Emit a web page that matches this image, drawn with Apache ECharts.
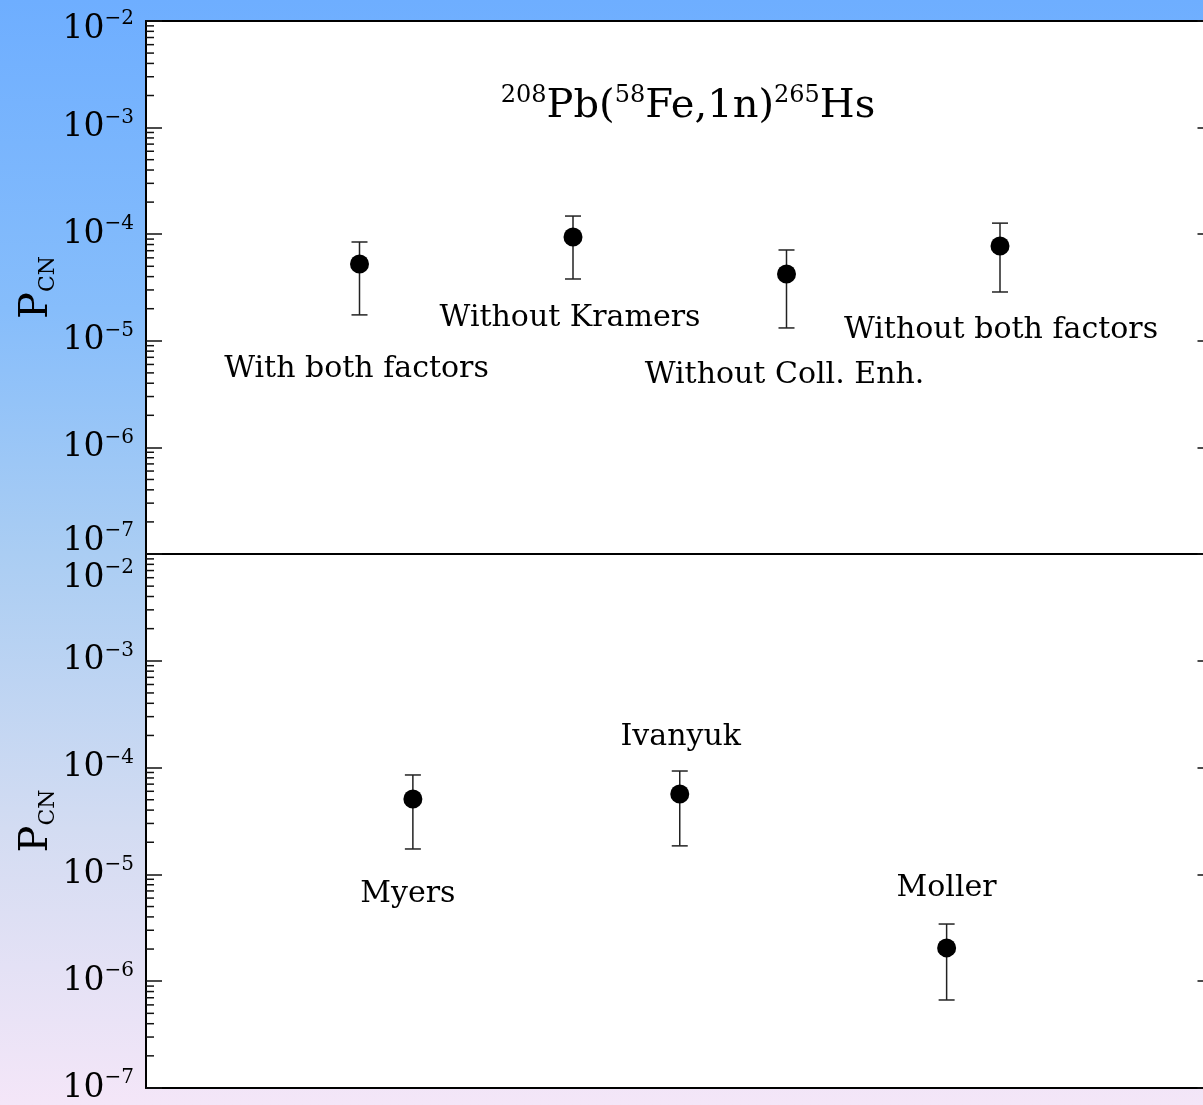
<!DOCTYPE html>
<html>
<head>
<meta charset="utf-8">
<script src="https://cdn.jsdelivr.net/npm/echarts@6/dist/echarts.min.js"></script>
<style>
  html, body { margin: 0; padding: 0; }
  body { width: 1203px; height: 1105px; background: linear-gradient(to bottom, #6eaeff 0%, #86bdfb 28%, #aacdf3 50%, #d3dcf2 75%, #f4e6f8 100%); }
  #chart { width: 1203px; height: 1105px; }
</style>
</head>
<body>
<div id="chart"></div>
<script>
// ---------- data ----------
const titleText = ['208', 'Pb(', '58', 'Fe,1n)', '265', 'Hs'];
const yAxisTitle = ['P', 'CN'];
const yTickExponents = [-7, -6, -5, -4, -3, -2];

const topLabels = ['With both factors', 'Without Kramers', 'Without Coll. Enh.', 'Without both factors'];
const topValues = [5.25e-5, 9.42e-5, 4.24e-5, 7.74e-5];
const topLow    = [1.75e-5, 3.80e-5, 1.32e-5, 2.87e-5];
const topHigh   = [8.45e-5, 1.48e-4, 7.11e-5, 1.27e-4];

const bottomLabels = ['Myers', 'Ivanyuk', 'Moller'];
const bottomValues = [5.08e-5, 5.66e-5, 2.05e-6];
const bottomLow    = [1.73e-5, 1.85e-5, 6.67e-7];
const bottomHigh   = [8.53e-5, 9.29e-5, 3.43e-6];

// ---------- layout / style (not data) ----------
const topLabelOffsets = [[-3, 105], [-3, 81], [-2, 101], [1, 84]];
const bottomLabelOffsets = [[-5, 95], [1, -57], [0, -60]];
const FONT = 'DejaVu Serif';

const yMin = Math.pow(10, yTickExponents[0]);
const yMax = Math.pow(10, yTickExponents[yTickExponents.length - 1]);

// minor ticks at 2..9 x 10^e
const minorTicks = [];
for (let i = 0; i < yTickExponents.length - 1; i++) {
  for (let k = 2; k <= 9; k++) minorTicks.push([0, k * Math.pow(10, yTickExponents[i])]);
}

const labelRich = {
  b: { fontFamily: FONT, fontSize: 33, lineHeight: 40, color: '#000' },
  s: { fontFamily: FONT, fontSize: 20, lineHeight: 16, verticalAlign: 'top', color: '#000' },
  gA: { fontSize: 10, lineHeight: 16 },
  gB: { fontSize: 10, lineHeight: 26 },
  gC: { fontSize: 10, lineHeight: 48 }
};
function makeFormatter(shift) {
  return function (v) {
    const e = Math.round(Math.log10(v));
    const core = '{b|10}{s|\u2212' + (-e) + '}';
    const sh = shift[e];
    if (!sh) return core;
    if (sh.pos === 'above') return '{' + sh.g + '| }\n' + core;
    return core + '\n{' + sh.g + '| }';
  };
}

function leftAxis(gridIndex, shift) {
  return {
    type: 'log', logBase: 10, gridIndex: gridIndex, position: 'left',
    min: yMin, max: yMax, interval: 1,
    name: '{p|' + yAxisTitle[0] + '}{c|' + yAxisTitle[1] + '}',
    nameLocation: 'middle', nameRotate: 90, nameGap: 87, nameMoveOverlap: false,
    nameTextStyle: {
      rich: {
        p: { fontFamily: FONT, fontSize: 40, lineHeight: 44, color: '#000' },
        c: { fontFamily: FONT, fontSize: 22, lineHeight: 22, verticalAlign: 'bottom', color: '#000' }
      }
    },
    axisLine: { show: true, onZero: false, lineStyle: { color: '#000', width: 2 } },
    axisTick: { show: true, inside: true, length: 16, lineStyle: { color: '#111', width: 1.5 } },
    minorTick: { show: false },
    splitLine: { show: false },
    axisLabel: { show: true, margin: 12, showMinLabel: true, showMaxLabel: true,
      formatter: makeFormatter(shift), rich: labelRich }
  };
}
function rightAxis(gridIndex) {
  return {
    type: 'log', logBase: 10, gridIndex: gridIndex, position: 'right',
    min: yMin, max: yMax, interval: 1,
    axisLine: { show: true, onZero: false, lineStyle: { color: '#000', width: 2 } },
    axisTick: { show: true, inside: true, length: 16, lineStyle: { color: '#111', width: 1.5 } },
    axisLabel: { show: false }, splitLine: { show: false }
  };
}
function xAxis(gridIndex, max, position) {
  return {
    type: 'value', gridIndex: gridIndex, min: 0, max: max, position: position,
    axisLine: { show: true, onZero: false, lineStyle: { color: '#000', width: 2 } },
    axisTick: { show: false }, axisLabel: { show: false }, splitLine: { show: false }
  };
}

function errorSeries(xi, yi, low, high) {
  return {
    type: 'custom', xAxisIndex: xi, yAxisIndex: yi, z: 3, silent: true,
    data: low.map((l, i) => [i + 1, l, high[i]]),
    encode: { x: 0, y: [1, 2] },
    renderItem: function (params, api) {
      const x = api.value(0);
      const pHi = api.coord([x, api.value(2)]);
      const pLo = api.coord([x, api.value(1)]);
      const w = 8;
      const st = { stroke: '#222', lineWidth: 1.5 };
      return { type: 'group', children: [
        { type: 'line', shape: { x1: pHi[0], y1: pHi[1], x2: pLo[0], y2: pLo[1] }, style: st },
        { type: 'line', shape: { x1: pHi[0] - w, y1: pHi[1], x2: pHi[0] + w, y2: pHi[1] }, style: st },
        { type: 'line', shape: { x1: pLo[0] - w, y1: pLo[1], x2: pLo[0] + w, y2: pLo[1] }, style: st }
      ] };
    }
  };
}
function minorTickSeries(xi, yi) {
  return {
    type: 'custom', xAxisIndex: xi, yAxisIndex: yi, z: 4, silent: true, clip: false,
    data: minorTicks,
    renderItem: function (params, api) {
      const p = api.coord([api.value(0), api.value(1)]);
      return { type: 'line', shape: { x1: p[0], y1: p[1], x2: p[0] + 8, y2: p[1] },
        style: { stroke: '#111', lineWidth: 1.5 } };
    }
  };
}
function pointSeries(xi, yi, values, labels, offsets) {
  return {
    type: 'scatter', xAxisIndex: xi, yAxisIndex: yi, z: 5, symbol: 'circle', symbolSize: 19,
    itemStyle: { color: '#000', opacity: 1 },
    data: values.map((v, i) => ({ value: [i + 1, v], name: labels[i] })),
    label: { show: true, position: 'inside', formatter: '{b}', fontFamily: FONT, fontSize: 30,
      color: '#000', opacity: 1, textBorderWidth: 0 },
    labelLayout: function (params) {
      const o = offsets[params.dataIndex];
      return { dx: o[0], dy: o[1], hideOverlap: false };
    }
  };
}

const chart = echarts.init(document.getElementById('chart'), null, { renderer: 'canvas' });
chart.setOption({
  backgroundColor: 'transparent',
  animation: false,
  title: {
    text: '{s|' + titleText[0] + '}{m|' + titleText[1] + '}{s|' + titleText[2] + '}{m|' + titleText[3] + '}{s|' + titleText[4] + '}{m|' + titleText[5] + '}',
    left: 688, top: 107, textAlign: 'center', textVerticalAlign: 'middle', padding: 0,
    textStyle: {
      fontFamily: FONT, fontWeight: 'normal', color: '#000',
      rich: {
        m: { fontFamily: FONT, fontWeight: 'normal', fontSize: 40, lineHeight: 46, color: '#000' },
        s: { fontFamily: FONT, fontWeight: 'normal', fontSize: 24, lineHeight: 22, verticalAlign: 'top', color: '#000' }
      }
    }
  },
  grid: [
    { left: 146, top: 21, width: 1067.5, height: 533, show: true, backgroundColor: '#fff', borderWidth: 0, outerBoundsMode: 'none', containLabel: false },
    { left: 146, top: 554, width: 1067.5, height: 534, show: true, backgroundColor: '#fff', borderWidth: 0, outerBoundsMode: 'none', containLabel: false }
  ],
  xAxis: [
    xAxis(0, 5, 'bottom'),
    xAxis(0, 5, 'top'),
    xAxis(1, 4, 'bottom')
  ],
  yAxis: [
    leftAxis(0, { '-2': { pos: 'above', g: 'gA' }, '-7': { pos: 'below', g: 'gB' } }),
    rightAxis(0),
    leftAxis(1, { '-2': { pos: 'above', g: 'gC' } }),
    rightAxis(1)
  ],
  series: [
    minorTickSeries(0, 0),
    errorSeries(0, 0, topLow, topHigh),
    pointSeries(0, 0, topValues, topLabels, topLabelOffsets),
    minorTickSeries(2, 2),
    errorSeries(2, 2, bottomLow, bottomHigh),
    pointSeries(2, 2, bottomValues, bottomLabels, bottomLabelOffsets)
  ]
});
</script>
</body>
</html>
